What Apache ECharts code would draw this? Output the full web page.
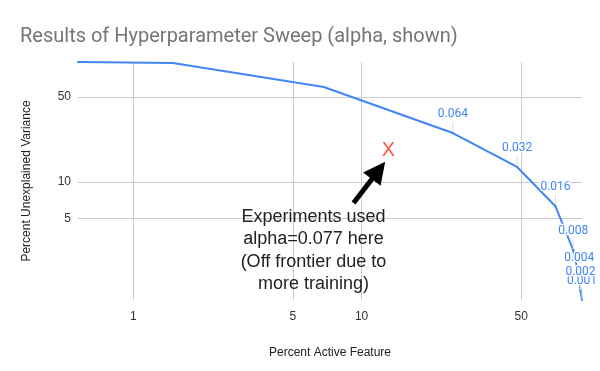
<!DOCTYPE html>
<html><head><meta charset="utf-8">
<script src="https://cdn.jsdelivr.net/npm/echarts@6/dist/echarts.min.js"></script>
<style>html,body{margin:0;padding:0;background:#fff}#c{width:600px;height:371px}</style>
</head><body><div id="c"></div>
<script>
// ---- data ----
const percentActive   = [0.572, 1.49, 6.83, 25.1, 48.0, 70.7, 84.6, 89.9, 91.0, 92.4];
const unexplainedVar  = [97.2, 95.3, 60.5, 25.3, 13.3, 6.32, 2.75, 1.65, 1.27, 1.07];
const alphaLabels     = [null, null, null, '0.064', '0.032', '0.016', '0.008', '0.004', '0.002', '0.001'];
const xTicks = [1, 5, 10, 50];
const yTicks = [5, 10, 50];
const experimentPoint = [13.1, 18.3];
const arrowFrom = [9.22, 6.72];
const arrowTo   = [11.86, 12.46];
const noteText = 'Experiments used\nalpha=0.077 here\n(Off frontier due to\nmore training)';
const titleText = 'Results of Hyperparameter Sweep (alpha, shown)';

// build line data (reverse order so earlier alphas' labels draw on top)
const lineData = percentActive.map((x, i) => ({
  value: [x, unexplainedVar[i]],
  label: alphaLabels[i] ? { show: true, formatter: alphaLabels[i] } : { show: false },
  labelLine: { show: !!alphaLabels[i] }
})).reverse();

const chart = echarts.init(document.getElementById('c'), null, { renderer: 'canvas' });
const axisFont = 'Arial, "Liberation Sans", sans-serif';
chart.setOption({
  animation: false,
  backgroundColor: '#fff',
  title: {
    text: titleText, left: 20, top: 27, padding: 0,
    textStyle: { fontFamily: 'Roboto', fontSize: 20, fontWeight: 'normal', color: '#757575' }
  },
  grid: { left: 78, right: 18, top: 62, bottom: 71, containLabel: false, outerBoundsMode: 'none' },
  xAxis: {
    type: 'log', logBase: 10, min: 'dataMin', max: 'dataMax',
    name: 'Percent Active Feature', nameLocation: 'middle', nameGap: 47,
    nameTextStyle: { fontFamily: axisFont, fontSize: 12, color: '#222' },
    axisLine: { show: false },
    axisTick: { show: false, customValues: xTicks },
    axisLabel: { customValues: xTicks, margin: 11, fontFamily: axisFont, fontSize: 12, color: '#333' },
    splitLine: { show: true, lineStyle: { color: '#cccccc', width: 1 } }
  },
  yAxis: {
    type: 'log', logBase: 10, min: 'dataMin', max: 'dataMax',
    name: 'Percent Unexplained Variance', nameLocation: 'middle', nameGap: 45, nameRotate: 90,
    nameTextStyle: { fontFamily: axisFont, fontSize: 12, color: '#222' },
    axisLine: { show: false },
    axisTick: { show: false, customValues: yTicks },
    axisLabel: { customValues: yTicks, margin: 7, fontFamily: axisFont, fontSize: 12, color: '#333' },
    splitLine: { show: true, lineStyle: { color: '#cccccc', width: 1 } }
  },
  series: [
    {
      type: 'line',
      data: lineData,
      showSymbol: true,
      symbol: 'circle',
      symbolSize: 2,
      lineStyle: { color: '#4285F4', width: 2 },
      itemStyle: { color: '#4285F4' },
      label: {
        position: 'top', distance: 2,
        fontFamily: 'Roboto', fontSize: 12, color: '#4285F4',
        textBorderColor: '#fff', textBorderWidth: 3
      },
      labelLayout: { dy: -10 },
      labelLine: { lineStyle: { color: '#dddddd', width: 1 } },
      z: 3
    },
    {
      type: 'scatter',
      data: [experimentPoint],
      symbolSize: 1,
      itemStyle: { color: 'rgba(0,0,0,0)' },
      label: {
        show: true, position: 'inside', formatter: 'X',
        fontFamily: '"Liberation Sans", Arial, sans-serif', fontSize: 20, color: '#ff2d12'
      },
      markLine: {
        silent: true,
        animation: false,
        symbol: ['none', 'triangle'],
        symbolSize: [22, 22],
        label: { show: false },
        lineStyle: { color: '#000', width: 5, type: 'solid' },
        data: [[{ coord: arrowFrom }, { coord: arrowTo }]]
      },
      z: 4
    }
  ],
  graphic: [
    {
      type: 'text', x: 313.5, y: 250.5,
      style: {
        text: noteText, align: 'center', verticalAlign: 'middle',
        font: '18px "Liberation Sans", Arial, sans-serif', lineHeight: 22.3, fill: '#222'
      },
      z: 10
    }
  ]
});
</script>
</body></html>
